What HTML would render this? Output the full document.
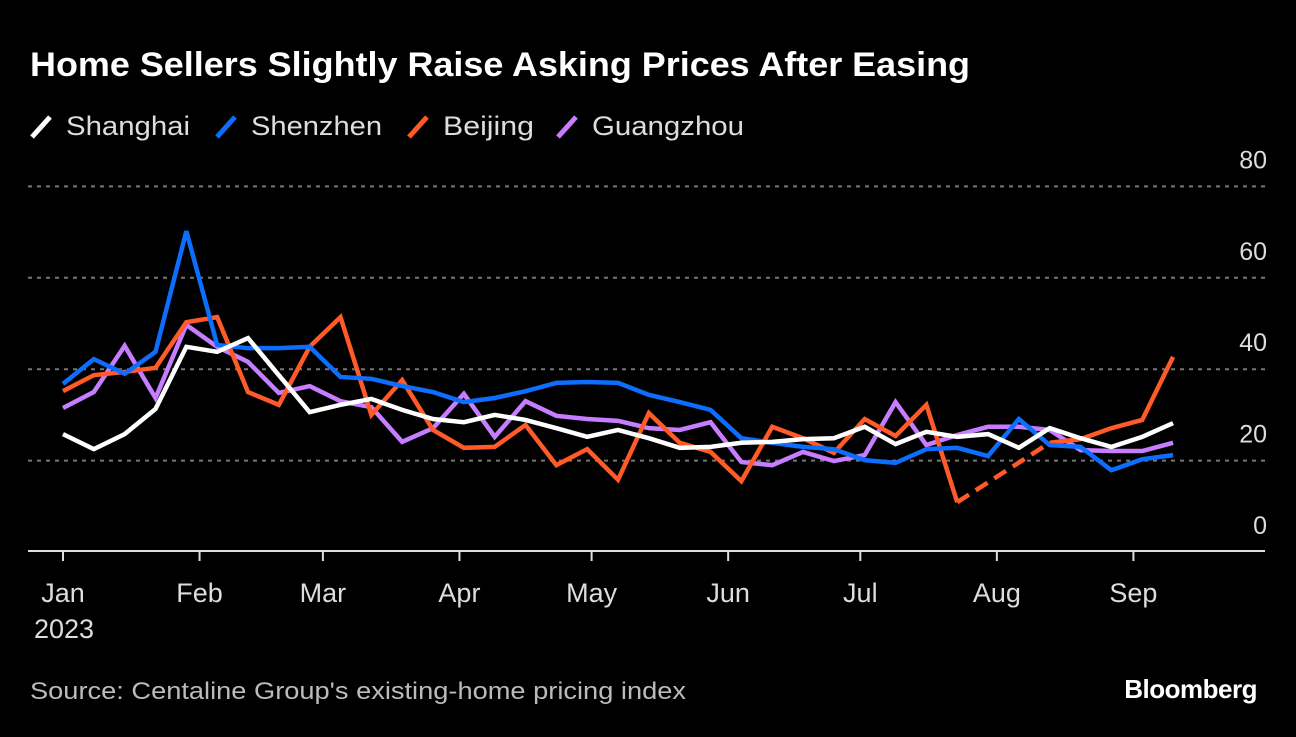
<!DOCTYPE html>
<html><head><meta charset="utf-8"><style>
html,body{margin:0;padding:0;background:#000;}
body{width:1296px;height:732px;overflow:hidden;font-family:"Liberation Sans",sans-serif;}
svg text{font-family:"Liberation Sans",sans-serif;}
</style></head><body>
<svg id="chart" width="1296" height="732" viewBox="0 0 1296 732">
<text x="30" y="76" fill="#fff" font-size="34" font-weight="bold" textLength="940" lengthAdjust="spacingAndGlyphs">Home Sellers Slightly Raise Asking Prices After Easing</text>
<g id="legend"></g>
<g id="grid"></g>
<g id="series"></g>
<g id="xaxis"></g>
<text x="30" y="699" fill="#bbb" font-size="24" textLength="656" lengthAdjust="spacingAndGlyphs">Source: Centaline Group's existing-home pricing index</text>
<text x="1257" y="698" fill="#fff" font-size="26" font-weight="bold" text-anchor="end" letter-spacing="-0.5">Bloomberg</text>
</svg>
<script>
const seriesNames = ["Shanghai","Shenzhen","Beijing","Guangzhou"];
const shanghai = [25.8,22.5,25.8,31.3,44.9,43.8,46.8,38.7,30.6,32.2,33.5,31.1,29.1,28.4,30.0,28.9,27.1,25.2,26.7,24.9,22.8,23.0,23.9,24.1,24.7,24.9,27.4,23.6,26.3,25.2,25.8,22.8,27.1,24.9,23.0,25.2,28.2];
const shenzhen = [36.8,42.2,39.0,43.8,70.2,45.3,44.6,44.6,44.9,38.3,37.9,36.3,35.0,32.8,33.7,35.2,37.0,37.2,37.0,34.4,32.8,31.1,24.9,23.9,23.0,22.5,20.1,19.5,22.5,22.8,21.0,29.1,23.4,23.0,17.9,20.3,21.2];
const beijing = [35.2,38.7,39.4,40.3,50.3,51.4,35.0,32.2,44.9,51.4,30.0,37.6,26.7,22.8,23.0,27.8,19.0,22.5,15.8,30.4,23.9,21.9,15.5,27.4,24.9,21.7,29.1,25.4,32.2,10.9,null,null,23.9,24.7,27.1,28.9,42.7];
const guangzhou = [31.5,35.0,45.1,33.7,49.7,44.9,41.6,34.8,36.3,33.0,31.7,24.1,27.1,34.6,25.2,33.0,29.8,29.1,28.7,27.1,26.7,28.4,19.7,19.0,21.9,19.9,21.2,32.8,23.4,25.6,27.4,27.4,26.7,22.3,22.1,22.1,23.9];
const yTicks = [0,20,40,60,80];
const monthLabels = ["Jan","Feb","Mar","Apr","May","Jun","Jul","Aug","Sep"];
const monthDays = [0,31,59,90,120,151,181,212,243];

const NS="http://www.w3.org/2000/svg";
const colors=["#ffffff","#0d6efd","#ff5a28","#c77dff"];
const y=v=>552-v*4.57;
const xDay=d=>63+d*4.405;
const xIdx=i=>xDay(i*7);
function mk(tag,attrs,parent){const e=document.createElementNS(NS,tag);for(const k in attrs)e.setAttribute(k,attrs[k]);parent.appendChild(e);return e;}

// legend
const lg=document.getElementById('legend');
const legX=[30,215,407,556];
const legW=[124,131,91,152];
seriesNames.forEach((n,i)=>{
  const g=mk('g',{},lg);
  
  
  const sw=mk('line',{x1:legX[i]+2,y1:137,x2:legX[i]+20,y2:117,stroke:colors[i],'stroke-width':5},g);
  
  
  const t=mk('text',{x:legX[i]+36,y:135,fill:'#ddd','font-size':27,textLength:legW[i],lengthAdjust:'spacingAndGlyphs'},g);
  t.textContent=n;
  
  
});

// grid
const gr=document.getElementById('grid');
yTicks.forEach(v=>{
  if(v>0){
    const l=mk('line',{x1:28,x2:1265,y1:y(v),y2:y(v),stroke:'#777','stroke-width':2,'stroke-dasharray':'4,5'},gr);
    
    
  }
  const t=mk('text',{x:1267,y:y(v)-18,fill:'#ddd','font-size':25,'text-anchor':'end'},gr);
  t.textContent=v;
  
  
});

// series
const sg=document.getElementById('series');
[shanghai,shenzhen,beijing,guangzhou].map((d,s)=>({d,s})).reverse().forEach(({d,s})=>{
  let segs=[],cur=[];
  d.forEach((v,i)=>{if(v==null){if(cur.length)segs.push(cur);cur=[];}else cur.push([xIdx(i),y(v),i]);});
  if(cur.length)segs.push(cur);
  segs.forEach(seg=>{
    const p=mk('polyline',{points:seg.map(q=>q[0]+','+q[1]).join(' '),fill:'none',stroke:colors[s],'stroke-width':4.5,'stroke-linejoin':'miter','stroke-miterlimit':3},sg);
    
    
  });
  for(let k=0;k<segs.length-1;k++){
    const a=segs[k][segs[k].length-1],b=segs[k+1][0];
    const p=mk('line',{x1:a[0],y1:a[1],x2:b[0],y2:b[1],stroke:colors[s],'stroke-width':4.5,'stroke-dasharray':'14,8'},sg);
    
    
  }
});

// x axis
const xa=document.getElementById('xaxis');
const ax=mk('line',{x1:28,x2:1265,y1:551,y2:551,stroke:'#ddd','stroke-width':2},xa);


monthLabels.forEach((m,i)=>{
  const x=xDay(monthDays[i]);
  const tk=mk('line',{x1:x,x2:x,y1:551,y2:561,stroke:'#ddd','stroke-width':2},xa);
  
  
  const t=mk('text',{x:x,y:602,fill:'#ddd','font-size':27,'text-anchor':'middle'},xa);
  t.textContent=m;
  
  
});
const yr=mk('text',{x:64,y:638,fill:'#ddd','font-size':27,'text-anchor':'middle'},xa);
yr.textContent='2023';


</script>
</body></html>
